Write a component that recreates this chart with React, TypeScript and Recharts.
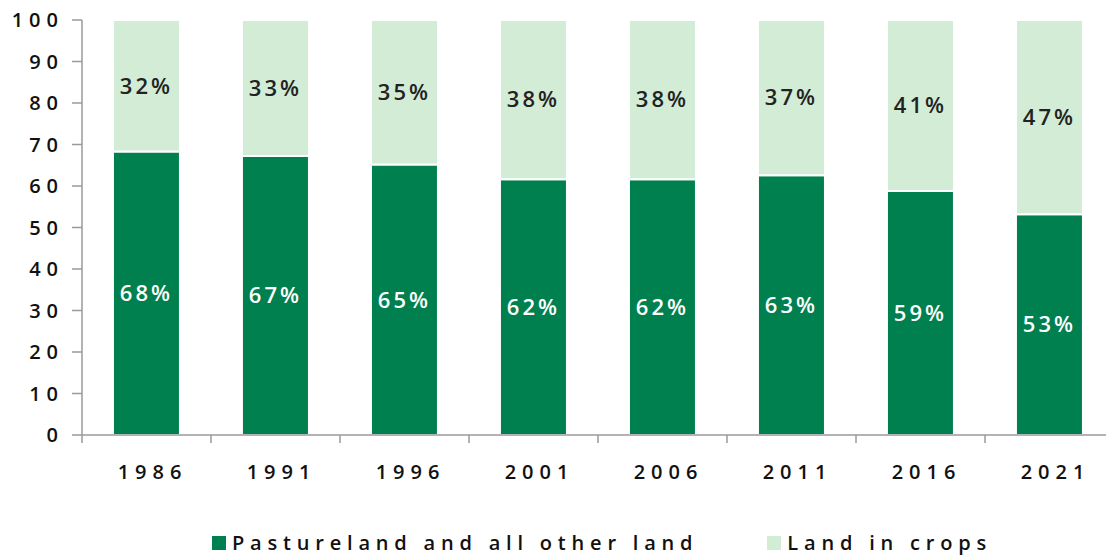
import { Bar, BarChart, LabelList, XAxis, YAxis } from "recharts";

const years = ["1986", "1991", "1996", "2001", "2006", "2011", "2016", "2021"];
const pastureShare = [68.3, 67.2, 65.2, 61.6, 61.6, 62.6, 58.8, 53.2];
const cropShare = [31.7, 32.8, 34.8, 38.4, 38.4, 37.4, 41.2, 46.8];
const yTicks = [0, 10, 20, 30, 40, 50, 60, 70, 80, 90, 100];

const PASTURE_NAME = "Pastureland and all other land";
const CROPS_NAME = "Land in crops";
const DARK = "#00804e";
const LIGHT = "#d2ecd6";
const AXIS = "#9a9a9a";
const FONT = "'Open Sans', 'DejaVu Sans', sans-serif";

const chartData = years.map((year, i) => ({
  year,
  pasture: pastureShare[i],
  crops: cropShare[i],
}));

const pct = (v: unknown) => `${Math.round(Number(v))}%`;

function YearTick(props: any) {
  const { x, y, payload } = props;
  const half = payload?.offset ?? 0;
  const isLast = payload?.index === years.length - 1;
  return (
    <g>
      <line x1={x - half} x2={x - half} y1={y - 8} y2={y} stroke={AXIS} strokeWidth={1.5} />
      {isLast && (
        <line x1={x + half} x2={x + half} y1={y - 8} y2={y} stroke={AXIS} strokeWidth={1.5} />
      )}
      <text
        x={x + 6}
        y={y + 36}
        textAnchor="middle"
        fill="#111"
        fontSize={20}
        fontWeight={600}
        letterSpacing={6}
        fontFamily={FONT}
      >
        {payload.value}
      </text>
    </g>
  );
}

function LegendRow() {
  const item = (color: string, label: string) => (
    <div style={{ display: "flex", alignItems: "center" }}>
      <span
        style={{ width: 14, height: 14, background: color, marginRight: 6, display: "inline-block" }}
      />
      <span>{label}</span>
    </div>
  );
  return (
    <div
      style={{
        position: "absolute",
        left: 212,
        top: 531,
        display: "flex",
        gap: 69,
        fontFamily: FONT,
        fontSize: 20,
        fontWeight: 600,
        letterSpacing: 5.8,
        lineHeight: "24px",
        color: "#111",
        whiteSpace: "nowrap",
      }}
    >
      {item(DARK, PASTURE_NAME)}
      {item(LIGHT, CROPS_NAME)}
    </div>
  );
}

export default function App() {
  return (
    <div
      style={{
        position: "absolute",
        left: 0,
        top: 0,
        width: 1106,
        height: 555,
        overflow: "hidden",
        background: "#fff",
      }}
    >
      <BarChart
        width={1114}
        height={555}
        data={chartData}
        margin={{ top: 20, right: 0, left: 0, bottom: 60 }}
        barCategoryGap="24%"
      >
        <XAxis
          dataKey="year"
          tickLine={false}
          tickSize={8}
          tickMargin={0}
          height={60}
          axisLine={{ stroke: AXIS, strokeWidth: 1.5 }}
          tick={<YearTick />}
          interval={0}
        />
        <YAxis
          type="number"
          domain={[0, 100]}
          ticks={yTicks}
          width={82}
          tickSize={10}
          tickMargin={8}
          axisLine={{ stroke: AXIS, strokeWidth: 1.5 }}
          tickLine={{ stroke: AXIS, strokeWidth: 1.5 }}
          tick={{
            fill: "#111",
            fontSize: 20,
            fontWeight: 600,
            fontFamily: FONT,
            letterSpacing: 6,
          }}
        />
        <Bar
          dataKey="pasture"
          name={PASTURE_NAME}
          stackId="land"
          fill={DARK}
          stroke="#fff"
          strokeWidth={2}
          isAnimationActive={false}
        >
          <LabelList
            dataKey="pasture"
            position="center"
            formatter={pct}
            fill="#fff"
            style={{ fontSize: 22, fontWeight: 600, fontFamily: FONT, letterSpacing: 3 }}
          />
        </Bar>
        <Bar
          dataKey="crops"
          name={CROPS_NAME}
          stackId="land"
          fill={LIGHT}
          stroke="#fff"
          strokeWidth={2}
          isAnimationActive={false}
        >
          <LabelList
            dataKey="crops"
            position="center"
            formatter={pct}
            fill="#222"
            style={{ fontSize: 22, fontWeight: 600, fontFamily: FONT, letterSpacing: 3 }}
          />
        </Bar>
      </BarChart>
      <LegendRow />
    </div>
  );
}
